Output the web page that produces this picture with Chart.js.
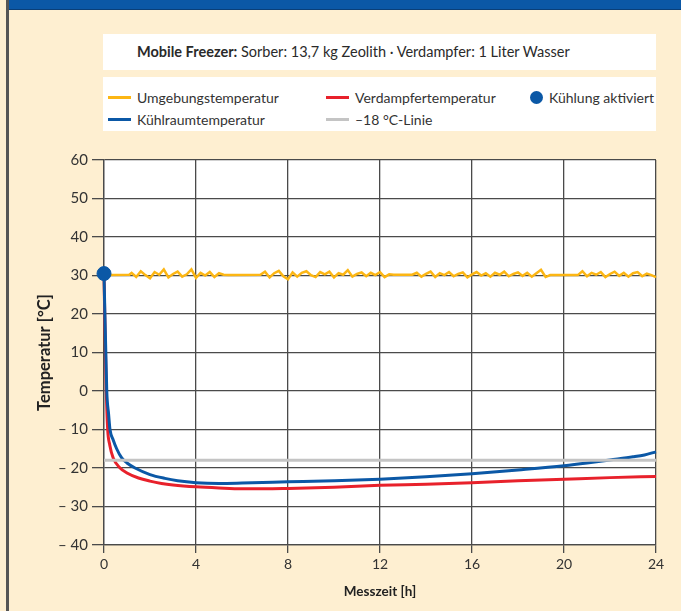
<!DOCTYPE html>
<html>
<head>
<meta charset="utf-8">
<script src="https://cdn.jsdelivr.net/npm/chart.js@4/dist/chart.umd.min.js"></script>
<style>
  html, body { margin: 0; padding: 0; }
  body {
    width: 681px; height: 611px; position: relative; overflow: hidden;
    background: #feefd1; color: #333;
    font-family: Lato, "Noto Sans", sans-serif;
  }
  #frame { position: absolute; left: 6px; top: 0; width: 3px; height: 611px; background: #555; }
  #header { position: absolute; left: 9px; top: 0; width: 672px; height: 9px; background: #0b58a6; border-bottom: 1px solid #0a3f78; }
  #subtitle {
    position: absolute; left: 103px; top: 34px; width: 553px; height: 36px;
    background: #fff; box-sizing: border-box; padding-left: 34px;
    line-height: 36px; font-size: 14.5px; color: #2a2a2a;
  }
  #legend {
    position: absolute; left: 103px; top: 77px; width: 553px; height: 54px;
    background: #fff; box-sizing: border-box; padding: 9px 0 0 5px;
    display: grid; grid-auto-flow: column;
    grid-template-rows: 22px 22px; grid-template-columns: 218px 202px 1fr;
    font-size: 14px; color: #333;
  }
  .item { display: flex; align-items: center; }
  .swatch { width: 23px; height: 3px; margin-right: 6px; }
  .dot { width: 13px; height: 13px; border-radius: 50%; margin: 0 6px 0 2px; }
  canvas { position: absolute; left: 0; top: 0; }
</style>
</head>
<body>
<div id="frame"></div>
<div id="header"></div>
<div id="subtitle"><b>Mobile Freezer:</b> Sorber: 13,7 kg Zeolith · Verdampfer: 1 Liter Wasser</div>
<div id="legend"></div>
<canvas id="chart" width="681" height="611"></canvas>
<script>
// Messzeit [h] / Temperatur [°C]
const xTicks = [0, 4, 8, 12, 16, 20, 24];
const yTickValues = [-40, -30, -20, -10, 0, 10, 20, 30, 40, 50, 60];
const yTickLabels = ["– 40", "– 30", "– 20", "– 10", "0", "10", "20", "30", "40", "50", "60"];

const ambientHours = [0, 1.1,
  1.2, 1.4, 1.6, 1.8, 2.0, 2.2, 2.4, 2.6, 2.8, 3.0, 3.2, 3.4, 3.6, 3.8, 4.0, 4.2, 4.4, 4.6, 4.8, 5.0, 5.2,
  5.4, 6.8,
  7.0, 7.2, 7.4, 7.6, 7.8, 8.0, 8.2, 8.4, 8.6, 8.8, 9.0, 9.2, 9.4, 9.6, 9.8, 10.0, 10.2, 10.4, 10.6, 10.8,
  11.0, 11.2, 11.4, 11.6, 11.8, 12.0, 12.2, 12.4,
  12.6, 13.4,
  13.6, 13.8, 14.0, 14.2, 14.4, 14.6, 14.8, 15.0, 15.2, 15.4, 15.6, 15.8, 16.0, 16.2, 16.4, 16.6, 16.8,
  17.0, 17.2, 17.4, 17.6, 17.8, 18.0, 18.2, 18.4, 18.6, 18.8, 19.0, 19.2,
  19.4, 20.6,
  20.8, 21.0, 21.2, 21.4, 21.6, 21.8, 22.0, 22.2, 22.4, 22.6, 22.8, 23.0, 23.2, 23.4, 23.6, 23.8, 24.0];
const ambientTemps = [30.1, 30.2,
  30.7, 29.6, 31.1, 30.1, 29.3, 30.9, 30.2, 31.6, 29.5, 30.4, 31.0, 29.7, 30.3, 31.6, 29.4, 30.7, 30.0, 30.9, 29.6, 30.6, 30.2,
  30.1, 30.2,
  31.0, 29.5, 30.6, 31.2, 29.8, 29.0, 30.8, 29.7, 30.7, 31.1, 30.1, 29.6, 30.9, 30.3, 31.0, 29.5, 30.6, 30.2, 31.4, 29.7,
  30.4, 30.8, 29.8, 30.7, 30.1, 30.9, 29.6, 30.3,
  30.2, 30.2,
  30.7, 29.7, 30.4, 31.0, 29.6, 30.6, 30.1, 30.9, 29.8, 30.4, 30.8, 29.5, 30.3, 30.9, 30.0, 30.6, 29.7,
  30.7, 30.2, 31.0, 29.8, 30.4, 30.8, 29.9, 30.7, 29.7, 30.6, 31.5, 29.6,
  30.1, 30.1,
  31.1, 29.8, 30.7, 30.2, 30.9, 29.6, 30.4, 31.0, 29.9, 30.7, 29.7, 30.6, 30.9, 29.8, 30.5, 30.1, 29.6];

const coldHours = [0, 0.12, 0.2, 0.26, 0.4, 0.55, 0.77, 1.0, 1.35, 2, 2.65, 3.2, 4, 5, 6, 8, 10, 12, 14, 16, 18, 20, 21, 22, 23, 23.5, 24];
const coldTemps = [30.5, 0, -6, -10, -12.7, -15, -17.4, -18.7, -20, -21.7, -22.7, -23.3, -23.8, -24.0, -23.9, -23.6, -23.3, -22.9, -22.3, -21.5, -20.5, -19.4, -18.7, -17.9, -17.1, -16.6, -15.8];

const evapHours = [0, 0.1, 0.16, 0.25, 0.4, 0.7, 1, 1.5, 2, 2.5, 3, 4, 5, 6, 7, 8, 10, 12, 14, 16, 18, 20, 22, 24];
const evapTemps = [30, 0, -10, -14, -17.4, -20, -21.3, -22.6, -23.4, -24, -24.4, -24.9, -25.2, -25.4, -25.4, -25.3, -25.0, -24.5, -24.2, -23.8, -23.3, -22.9, -22.5, -22.2];

const limitHours = [0, 24];
const limitTemps = [-18, -18];

const startHours = [0];
const startTemps = [30.5];

const FONT = "Lato, 'Noto Sans', sans-serif";
const GRID = "#4a4a4a";

function points(hours, temps) {
  return hours.map((h, i) => ({ x: h, y: temps[i] }));
}

const datasets = [
  { label: "Umgebungstemperatur", data: points(ambientHours, ambientTemps), borderColor: "#fcb614", borderWidth: 2.5, order: 4, legend: "line" },
  { label: "Kühlraumtemperatur", data: points(coldHours, coldTemps), borderColor: "#0b58a6", borderWidth: 3, order: 2, cubicInterpolationMode: "monotone", legend: "line" },
  { label: "Verdampfertemperatur", data: points(evapHours, evapTemps), borderColor: "#e8212b", borderWidth: 3, order: 3, cubicInterpolationMode: "monotone", legend: "line" },
  { label: "–18 °C-Linie", data: points(limitHours, limitTemps), borderColor: "#c4c4c4", borderWidth: 3, order: 1, legend: "line" },
  { label: "Kühlung aktiviert", data: points(startHours, startTemps), backgroundColor: "#0b58a6", borderColor: "#0b58a6", showLine: false, pointRadius: 7, order: 0, legend: "dot" },
];
datasets.forEach(d => {
  if (d.showLine === undefined) { d.showLine = true; d.pointRadius = 0; }
  d.clip = false;
});

const plotBg = {
  id: "plotBg",
  beforeDraw(chart) {
    const { ctx, chartArea: a } = chart;
    ctx.save();
    ctx.fillStyle = "#fff";
    ctx.fillRect(a.left, a.top, a.width, a.height);
    ctx.restore();
  }
};

const chart = new Chart(document.getElementById("chart").getContext("2d"), {
  type: "scatter",
  data: { datasets },
  options: {
    responsive: false,
    animation: false,
    layout: { padding: { top: 160, right: 25, left: 0, bottom: 0 } },
    plugins: { legend: { display: false }, tooltip: { enabled: false } },
    scales: {
      x: {
        type: "linear", min: 0, max: 24,
        afterBuildTicks: s => { s.ticks = xTicks.map(v => ({ value: v })); },
        afterFit: s => { s.height = 66; },
        grid: { color: GRID, lineWidth: 1.3, tickLength: 8 },
        border: { color: GRID, width: 1.3 },
        ticks: { color: "#333", font: { family: FONT, size: 14 }, padding: 3, maxRotation: 0 },
        title: { display: true, text: "Messzeit [h]", color: "#222", font: { family: FONT, size: 13.5, weight: "bold" }, padding: { top: 0, bottom: 11 } }
      },
      y: {
        min: -40, max: 60,
        afterBuildTicks: s => { s.ticks = yTickValues.map(v => ({ value: v })); },
        afterFit: s => { s.width = 104; },
        grid: { color: GRID, lineWidth: 1.3, tickLength: 12 },
        border: { color: GRID, width: 1.3 },
        ticks: {
          color: "#333", font: { family: FONT, size: 15 }, padding: 4,
          callback: v => yTickLabels[yTickValues.indexOf(v)]
        },
        title: { display: true, text: "Temperatur [°C]", color: "#222", font: { family: FONT, size: 16.5, weight: "bold" }, padding: { top: 35, bottom: 0 } }
      }
    }
  },
  plugins: [plotBg]
});

// legend built from the datasets
const legend = document.getElementById("legend");
chart.data.datasets.forEach(d => {
  const item = document.createElement("div");
  item.className = "item";
  const mark = document.createElement("span");
  if (d.legend === "dot") {
    mark.className = "dot";
    mark.style.background = d.backgroundColor;
  } else {
    mark.className = "swatch";
    mark.style.background = d.borderColor;
  }
  item.appendChild(mark);
  item.appendChild(document.createTextNode(d.label));
  legend.appendChild(item);
});
</script>
</body>
</html>
